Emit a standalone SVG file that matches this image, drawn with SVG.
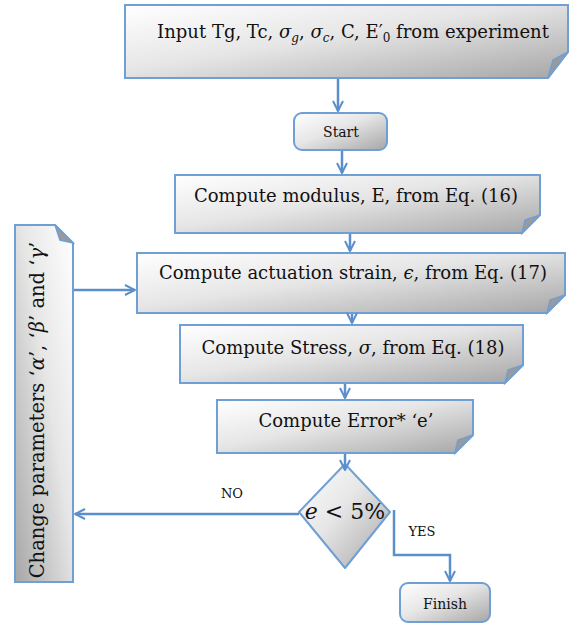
<svg xmlns="http://www.w3.org/2000/svg" width="574" height="624" viewBox="0 0 574 624">
<defs>
<linearGradient id="g" x1="0" y1="0" x2="1" y2="1">
<stop offset="0" stop-color="#ffffff"/>
<stop offset="0.45" stop-color="#e6e6e6"/>
<stop offset="1" stop-color="#a6a6a6"/>
</linearGradient>
<linearGradient id="gv" x1="1" y1="0" x2="0" y2="1">
<stop offset="0" stop-color="#ffffff"/>
<stop offset="0.45" stop-color="#e6e6e6"/>
<stop offset="1" stop-color="#a6a6a6"/>
</linearGradient>
<marker id="ah" viewBox="0 0 10 10" refX="9" refY="5" markerWidth="5" markerHeight="5" orient="auto" markerUnits="strokeWidth">
<path d="M1,1 L9,5 L1,9" fill="none" stroke="#5b8fcb" stroke-width="1.6"/>
</marker>
</defs>
<style>
.box{fill:url(#g);stroke:#6f9fd4;stroke-width:2}
.boxv{fill:url(#gv);stroke:#6f9fd4;stroke-width:2}
.fold{fill:#9a9a9a;stroke:#6f9fd4;stroke-width:1.5}
.t{font-family:"DejaVu Serif","Liberation Serif",serif;fill:#111;text-anchor:middle}
.c{fill:none;stroke:#5b8fcb;stroke-width:2.5}
.i{font-style:italic}
</style>

<g id="input">
<path class="box" d="M125,5 H568 V52 L548,78 H125 Z"/>
<path class="fold" d="M568,52 L553,60 L548,78 Z"/>
<text class="t" x="353" y="38" font-size="18">Input Tg, Tc, <tspan class="i">σ</tspan><tspan class="i" font-size="12" dy="4">g</tspan><tspan dy="-4">, </tspan><tspan class="i">σ</tspan><tspan class="i" font-size="12" dy="4">c</tspan><tspan dy="-4">, C, E′</tspan><tspan font-size="12" dy="4">0</tspan><tspan dy="-4"> from experiment</tspan></text>
</g>

<g id="start">
<rect class="box" x="294" y="113" width="93" height="37" rx="8"/>
<text class="t" x="341" y="137" font-size="14">Start</text>
</g>

<g id="modulus">
<path class="box" d="M175,175 H540 V215 L522,233 H175 Z"/>
<path class="fold" d="M540,215 L525,220 L522,233 Z"/>
<text class="t" x="356" y="202" font-size="18">Compute modulus, E, from Eq. (16)</text>
</g>

<g id="strain">
<path class="box" d="M137,253 H565 V295 L547,313 H137 Z"/>
<path class="fold" d="M565,295 L550,300 L547,313 Z"/>
<text class="t" x="353" y="279" font-size="18">Compute actuation strain, <tspan class="i">ϵ</tspan>, from Eq. (17)</text>
</g>

<g id="stress">
<path class="box" d="M180,325 H523 V365 L505,383 H180 Z"/>
<path class="fold" d="M523,365 L508,370 L505,383 Z"/>
<text class="t" x="353" y="354" font-size="18">Compute Stress, <tspan class="i">σ</tspan>, from Eq. (18)</text>
</g>

<g id="error">
<path class="box" d="M217,400 H473 V435 L455,453 H217 Z"/>
<path class="fold" d="M473,435 L458,440 L455,453 Z"/>
<text class="t" x="346" y="427" font-size="18">Compute Error* ‘e’</text>
</g>

<g id="decision">
<path class="box" d="M345,464 L390,512 L345,568 L299,512 Z" stroke-linejoin="round"/>
<text class="t" x="345" y="519" font-size="22"><tspan class="i">e</tspan> &lt; 5%</text>
</g>

<g id="finish">
<rect class="box" x="400" y="583" width="90" height="39" rx="8"/>
<text class="t" x="445" y="609" font-size="14">Finish</text>
</g>

<g id="change">
<path class="boxv" d="M15,225 H55 L73,243 V582 H15 Z"/>
<path class="fold" d="M55,225 L60,240 L73,243 Z"/>
<text class="t" transform="translate(44,410) rotate(-90)" font-size="19.5">Change parameters ‘<tspan class="i">α</tspan>’, ‘<tspan class="i">β</tspan>’ and ‘<tspan class="i">γ</tspan>’</text>
</g>

<g id="connectors">
<line class="c" x1="338" y1="79" x2="338" y2="111" marker-end="url(#ah)"/>
<line class="c" x1="342" y1="151" x2="342" y2="173" marker-end="url(#ah)"/>
<line class="c" x1="350" y1="234" x2="350" y2="251" marker-end="url(#ah)"/>
<line class="c" x1="352" y1="314" x2="352" y2="323" marker-end="url(#ah)"/>
<line class="c" x1="345" y1="384" x2="345" y2="398" marker-end="url(#ah)"/>
<line class="c" x1="345" y1="454" x2="345" y2="470" marker-end="url(#ah)"/>
<line class="c" x1="74" y1="290" x2="135" y2="290" marker-end="url(#ah)"/>
<line class="c" x1="299" y1="514" x2="75" y2="514" marker-end="url(#ah)"/>
<polyline class="c" points="394,510 394,555 450,555 450,581" marker-end="url(#ah)"/>
<text class="t" x="232" y="498" font-size="13">NO</text>
<text class="t" x="422" y="536" font-size="13">YES</text>
</g>
</svg>
